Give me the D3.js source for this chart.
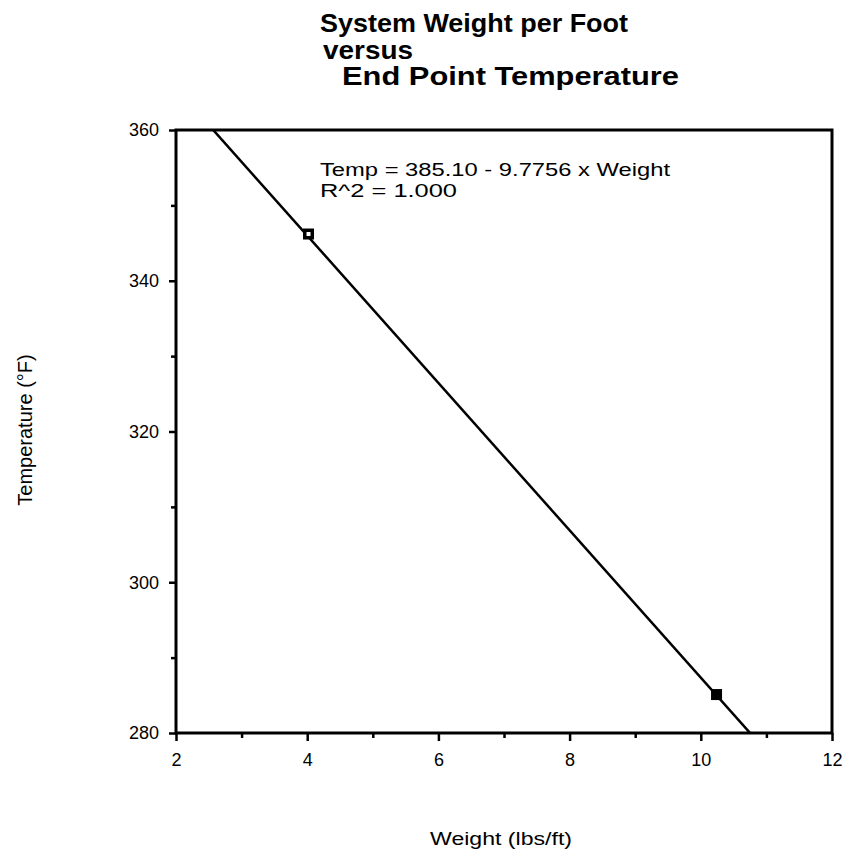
<!DOCTYPE html>
<html>
<head>
<meta charset="utf-8">
<script src="https://cdn.jsdelivr.net/npm/d3@7"></script>
<style>
  body { margin: 0; background: #fff; }
  text { font-family: "Liberation Sans", Arial, sans-serif; fill: #000; }
</style>
</head>
<body>
<div id="chart"></div>
<script>
// data
var weights = [4.02, 10.24];
var temps = [346.2, 285.1];
var markerFill = ["open", "filled"];
var fitIntercept = 385.10;
var fitSlope = -9.7756;
var xTicks = [2, 4, 6, 8, 10, 12];
var yTicks = [280, 300, 320, 340, 360];
var titleLines = ["System Weight per Foot", "versus", "End Point Temperature"];
var fitLines = ["Temp = 385.10 - 9.7756 x Weight", "R^2 = 1.000"];

var svgWidth = 846, svgHeight = 852;
var margin = { top: 130, left: 176, right: 14, bottom: 119 };
var width = svgWidth - margin.left - margin.right;
var height = svgHeight - margin.top - margin.bottom;

var svg = d3.select("#chart").append("svg")
  .attr("width", svgWidth)
  .attr("height", svgHeight);

var chartGroup = svg.append("g")
  .attr("transform", `translate(${margin.left}, ${margin.top})`);

var xScale = d3.scaleLinear().domain([2, 12]).range([0, width]);
var yScale = d3.scaleLinear().domain([280, 360]).range([height, 0]);

// minor ticks
var xMinor = d3.range(3, 12, 2);
var yMinor = d3.range(290, 360, 20);

chartGroup.append("g")
  .attr("transform", `translate(0, ${height})`)
  .call(d3.axisBottom(xScale).tickValues(xTicks).tickSize(8).tickPadding(12).tickFormat(d3.format("d")));
chartGroup.append("g")
  .attr("transform", `translate(0, ${height})`)
  .call(d3.axisBottom(xScale).tickValues(xMinor).tickSize(5).tickFormat(""));

chartGroup.append("g")
  .call(d3.axisLeft(yScale).tickValues(yTicks).tickSize(7).tickPadding(10).tickFormat(d3.format("d")));
chartGroup.append("g")
  .call(d3.axisLeft(yScale).tickValues(yMinor).tickSize(5).tickFormat(""));

chartGroup.selectAll(".domain").remove();
chartGroup.selectAll(".tick line").attr("stroke", "#000").attr("stroke-width", 2.5);
chartGroup.selectAll(".tick text")
  .style("font-size", "18px")
  .style("font-family", "'Liberation Sans', Arial, sans-serif");

// frame
chartGroup.append("rect")
  .attr("x", 0).attr("y", 0)
  .attr("width", width).attr("height", height)
  .attr("fill", "none")
  .attr("stroke", "#000")
  .attr("stroke-width", 3);

// fitted line, clipped to the plot
svg.append("clipPath").attr("id", "plotClip")
  .append("rect").attr("width", width).attr("height", height);

var fitLine = d3.line()
  .x(d => xScale(d))
  .y(d => yScale(fitIntercept + fitSlope * d));

chartGroup.append("path")
  .datum([2, 12])
  .attr("clip-path", "url(#plotClip)")
  .attr("d", fitLine)
  .attr("fill", "none")
  .attr("stroke", "#000")
  .attr("stroke-width", 2.5);

// markers
var pts = weights.map((w, i) => ({ w: w, t: temps[i], kind: markerFill[i] }));
chartGroup.selectAll(".pt")
  .data(pts)
  .enter()
  .append("rect")
  .attr("x", d => xScale(d.w) - 5.5)
  .attr("y", d => yScale(d.t) - 5.5)
  .attr("width", 11)
  .attr("height", 11)
  .attr("fill", "#000");
chartGroup.selectAll(".hole")
  .data(pts.filter(d => d.kind == "open"))
  .enter()
  .append("rect")
  .attr("x", d => xScale(d.w) - 2)
  .attr("y", d => yScale(d.t) - 2)
  .attr("width", 4)
  .attr("height", 4)
  .attr("fill", "#fff");

// fit annotation (the scanned lettering is wide, so stretch it)
var fitWidths = [350, 137];
chartGroup.selectAll(".fitText")
  .data(fitLines)
  .enter()
  .append("text")
  .attr("x", 144)
  .attr("y", (d, i) => 46 + i * 21)
  .attr("textLength", (d, i) => fitWidths[i])
  .attr("lengthAdjust", "spacingAndGlyphs")
  .style("font-size", "18px")
  .text(d => d);

// title
var titleX = [320, 323, 342];
var titleWidths = [308, 90, 337];
svg.selectAll(".title")
  .data(titleLines)
  .enter()
  .append("text")
  .attr("x", (d, i) => titleX[i])
  .attr("y", (d, i) => 32 + i * 26.5)
  .attr("textLength", (d, i) => titleWidths[i])
  .attr("lengthAdjust", "spacingAndGlyphs")
  .style("font-size", "25px")
  .style("font-weight", "bold")
  .text(d => d);

// axis labels
svg.append("text")
  .attr("transform", "rotate(-90)")
  .attr("x", -430)
  .attr("y", 32)
  .attr("text-anchor", "middle")
  .style("font-size", "20px")
  .text("Temperature (°F)");

svg.append("text")
  .attr("x", 430)
  .attr("y", 845)
  .attr("textLength", 142)
  .attr("lengthAdjust", "spacingAndGlyphs")
  .style("font-size", "18px")
  .text("Weight (lbs/ft)");
</script>
</body>
</html>
